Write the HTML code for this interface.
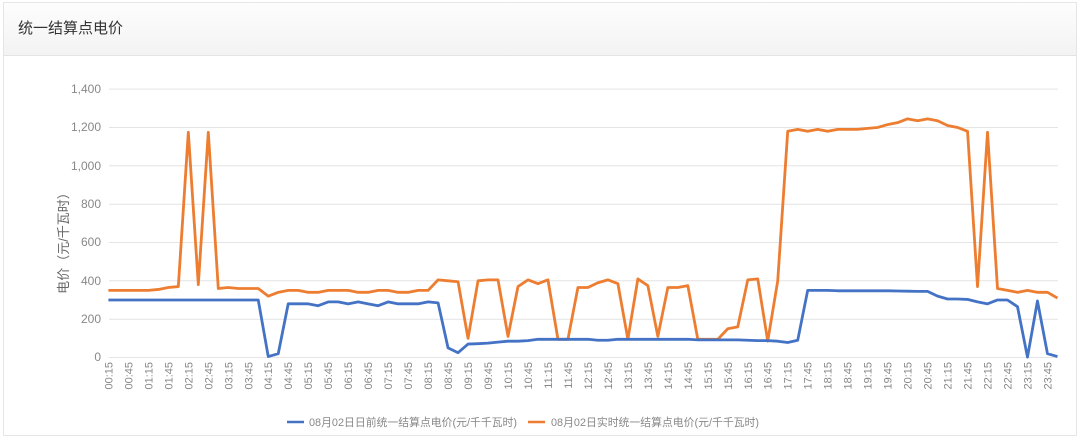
<!DOCTYPE html>
<html><head><meta charset="utf-8"><style>
body{margin:0;background:#fff;width:1080px;height:441px;overflow:hidden;font-family:"Liberation Sans","Noto Sans CJK SC",sans-serif}
.card{position:absolute;left:3px;top:2px;width:1074px;height:434px;border:1px solid #e6e6e6;box-sizing:border-box}
.hd{height:52px;border-bottom:1px solid #e3e3e3;background:linear-gradient(#fdfdfd,#f3f3f3);font-size:15px;color:#333;line-height:52px;padding-left:14px}
svg{position:absolute;left:0;top:0}
</style></head><body>
<div class="card"><div class="hd">统一结算点电价</div></div>
<svg width="1080" height="441" font-family="Liberation Sans, Noto Sans CJK SC, sans-serif">
<g stroke="#e4e4e4" stroke-width="1">
<line x1="109" x2="1058" y1="89.1" y2="89.1"/><line x1="109" x2="1058" y1="127.5" y2="127.5"/>
<line x1="109" x2="1058" y1="165.8" y2="165.8"/><line x1="109" x2="1058" y1="204.2" y2="204.2"/>
<line x1="109" x2="1058" y1="242.5" y2="242.5"/><line x1="109" x2="1058" y1="280.8" y2="280.8"/>
<line x1="109" x2="1058" y1="319.2" y2="319.2"/><line x1="109" x2="1058" y1="357.5" y2="357.5"/>
</g>
<g font-size="12" fill="#888" text-anchor="end">
<text x="101" y="93">1,400</text><text x="101" y="131">1,200</text><text x="101" y="170">1,000</text>
<text x="101" y="208">800</text><text x="101" y="246">600</text><text x="101" y="285">400</text>
<text x="101" y="323">200</text><text x="101" y="361">0</text>
</g>
<text transform="translate(68,240) rotate(-90)" font-size="13" fill="#666" text-anchor="middle">电价（元/千瓦时）</text>
<g font-size="11" fill="#888" text-anchor="end">
<text transform="translate(112.4,362) rotate(-90)">00:15</text>
<text transform="translate(132.4,362) rotate(-90)">00:45</text>
<text transform="translate(152.4,362) rotate(-90)">01:15</text>
<text transform="translate(172.3,362) rotate(-90)">01:45</text>
<text transform="translate(192.3,362) rotate(-90)">02:15</text>
<text transform="translate(212.3,362) rotate(-90)">02:45</text>
<text transform="translate(232.3,362) rotate(-90)">03:15</text>
<text transform="translate(252.3,362) rotate(-90)">03:45</text>
<text transform="translate(272.2,362) rotate(-90)">04:15</text>
<text transform="translate(292.2,362) rotate(-90)">04:45</text>
<text transform="translate(312.2,362) rotate(-90)">05:15</text>
<text transform="translate(332.2,362) rotate(-90)">05:45</text>
<text transform="translate(352.2,362) rotate(-90)">06:15</text>
<text transform="translate(372.1,362) rotate(-90)">06:45</text>
<text transform="translate(392.1,362) rotate(-90)">07:15</text>
<text transform="translate(412.1,362) rotate(-90)">07:45</text>
<text transform="translate(432.1,362) rotate(-90)">08:15</text>
<text transform="translate(452.1,362) rotate(-90)">08:45</text>
<text transform="translate(472.0,362) rotate(-90)">09:15</text>
<text transform="translate(492.0,362) rotate(-90)">09:45</text>
<text transform="translate(512.0,362) rotate(-90)">10:15</text>
<text transform="translate(532.0,362) rotate(-90)">10:45</text>
<text transform="translate(552.0,362) rotate(-90)">11:15</text>
<text transform="translate(571.9,362) rotate(-90)">11:45</text>
<text transform="translate(591.9,362) rotate(-90)">12:15</text>
<text transform="translate(611.9,362) rotate(-90)">12:45</text>
<text transform="translate(631.9,362) rotate(-90)">13:15</text>
<text transform="translate(651.9,362) rotate(-90)">13:45</text>
<text transform="translate(671.8,362) rotate(-90)">14:15</text>
<text transform="translate(691.8,362) rotate(-90)">14:45</text>
<text transform="translate(711.8,362) rotate(-90)">15:15</text>
<text transform="translate(731.8,362) rotate(-90)">15:45</text>
<text transform="translate(751.8,362) rotate(-90)">16:15</text>
<text transform="translate(771.7,362) rotate(-90)">16:45</text>
<text transform="translate(791.7,362) rotate(-90)">17:15</text>
<text transform="translate(811.7,362) rotate(-90)">17:45</text>
<text transform="translate(831.7,362) rotate(-90)">18:15</text>
<text transform="translate(851.7,362) rotate(-90)">18:45</text>
<text transform="translate(871.6,362) rotate(-90)">19:15</text>
<text transform="translate(891.6,362) rotate(-90)">19:45</text>
<text transform="translate(911.6,362) rotate(-90)">20:15</text>
<text transform="translate(931.6,362) rotate(-90)">20:45</text>
<text transform="translate(951.6,362) rotate(-90)">21:15</text>
<text transform="translate(971.5,362) rotate(-90)">21:45</text>
<text transform="translate(991.5,362) rotate(-90)">22:15</text>
<text transform="translate(1011.5,362) rotate(-90)">22:45</text>
<text transform="translate(1031.5,362) rotate(-90)">23:15</text>
<text transform="translate(1051.5,362) rotate(-90)">23:45</text>
</g>
<g transform="translate(108.4,357.5) scale(9.99,-0.1917)" fill="none" stroke-width="2.8" stroke-linejoin="round">
<polyline vector-effect="non-scaling-stroke" stroke="#ed7d31" points="0,350 1,350 2,350 3,350 4,350 5,355 6,365 7,370 8,1175 9,380 10,1175 11,360 12,365 13,360 14,360 15,360 16,320 17,340 18,350 19,350 20,340 21,340 22,350 23,350 24,350 25,340 26,340 27,350 28,350 29,340 30,340 31,350 32,350 33,405 34,400 35,395 36,100 37,400 38,405 39,405 40,110 41,370 42,405 43,385 44,405 45,95 46,95 47,365 48,365 49,390 50,405 51,385 52,95 53,410 54,375 55,110 56,365 57,365 58,375 59,95 60,95 61,95 62,150 63,160 64,405 65,410 66,85 67,400 68,1180 69,1190 70,1180 71,1190 72,1180 73,1190 74,1190 75,1190 76,1195 77,1200 78,1215 79,1225 80,1245 81,1235 82,1245 83,1235 84,1210 85,1200 86,1180 87,370 88,1175 89,360 90,350 91,340 92,350 93,340 94,340 95,310"/>
<polyline vector-effect="non-scaling-stroke" stroke="#4472c4" points="0,300 1,300 2,300 3,300 4,300 5,300 6,300 7,300 8,300 9,300 10,300 11,300 12,300 13,300 14,300 15,300 16,5 17,20 18,280 19,280 20,280 21,270 22,290 23,290 24,280 25,290 26,280 27,270 28,290 29,280 30,280 31,280 32,290 33,285 34,50 35,25 36,70 37,72 38,75 39,80 40,85 41,85 42,88 43,95 44,95 45,95 46,95 47,95 48,95 49,90 50,90 51,95 52,95 53,95 54,95 55,95 56,95 57,95 58,95 59,92 60,92 61,92 62,92 63,92 64,90 65,88 66,88 67,85 68,78 69,90 70,350 71,350 72,350 73,348 74,348 75,348 76,348 77,348 78,348 79,347 80,346 81,345 82,345 83,320 84,305 85,305 86,303 87,290 88,280 89,300 90,300 91,265 92,2 93,295 94,20 95,5"/>
</g>
<line x1="287" x2="304" y1="422" y2="422" stroke="#4472c4" stroke-width="2.5"/>
<text x="309" y="426" font-size="11" fill="#888" textLength="208" lengthAdjust="spacingAndGlyphs">08月02日日前统一结算点电价(元/千千瓦时)</text>
<line x1="528" x2="545" y1="422" y2="422" stroke="#ed7d31" stroke-width="2.5"/>
<text x="551" y="426" font-size="11" fill="#888" textLength="208" lengthAdjust="spacingAndGlyphs">08月02日实时统一结算点电价(元/千千瓦时)</text>
</svg>
</body></html>
